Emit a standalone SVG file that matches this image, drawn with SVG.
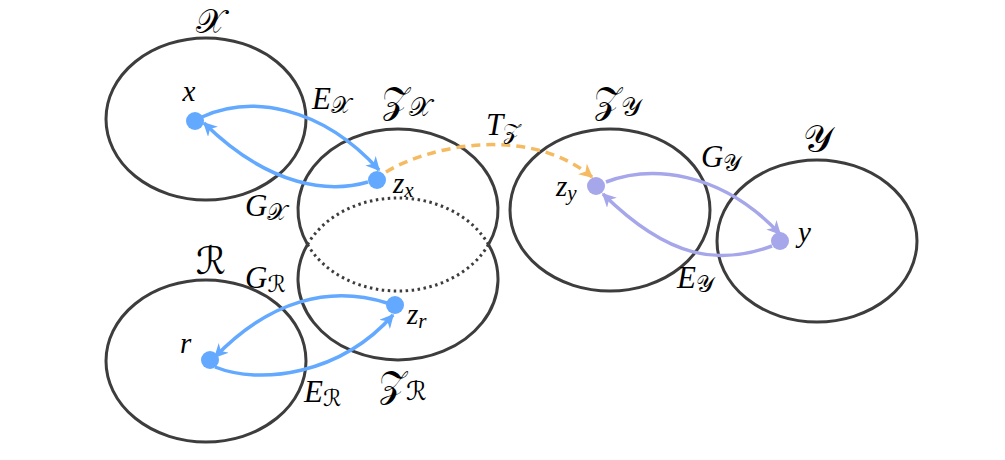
<svg xmlns="http://www.w3.org/2000/svg" width="1005" height="460" viewBox="0 0 1005 460">
<style>
.sp{fill:none;stroke:#3d3d3d;stroke-width:3}
.dot{fill:none;stroke:#3d3d3d;stroke-width:3;stroke-dasharray:2.5 3.5}
.t{font-family:"Liberation Serif","DejaVu Serif",serif;font-style:italic;fill:#000}
.s{font-family:"DejaVu Sans","Noto Sans","Liberation Serif",serif;font-style:normal;font-weight:normal;fill:#000}
.blue{fill:none;stroke:#63a9ff;stroke-width:3.5}
.pur{fill:none;stroke:#a6a6ea;stroke-width:3.5}
.org{fill:none;stroke:#f5bb62;stroke-width:3.5;stroke-dasharray:9 6}
</style>
<defs>
<marker id="ab" viewBox="0 0 10 10" refX="9" refY="5" markerWidth="4" markerHeight="4" orient="auto" markerUnits="strokeWidth"><path d="M0,0 L10,5 L0,10 L3,5 Z" fill="#63a9ff"/></marker>
<marker id="ap" viewBox="0 0 10 10" refX="9" refY="5" markerWidth="4" markerHeight="4" orient="auto" markerUnits="strokeWidth"><path d="M0,0 L10,5 L0,10 L3,5 Z" fill="#a6a6ea"/></marker>
<marker id="ao" viewBox="0 0 10 10" refX="9" refY="5" markerWidth="4" markerHeight="4" orient="auto" markerUnits="strokeWidth"><path d="M0,0 L10,5 L0,10 L3,5 Z" fill="#f5bb62"/></marker>
</defs>
<rect width="1005" height="460" fill="#fff"/>
<g id="space-X">
<ellipse class="sp" cx="206" cy="119" rx="100" ry="81"/>
<text class="s" x="210" y="33" font-size="34" text-anchor="middle">𝒳</text>
</g>
<g id="space-Zx">
<path class="sp" d="M307.5,244.5 A100,81 0 1 1 488.5,244.5"/>
<path class="dot" d="M307.5,244.5 A100,81 0 0 0 488.5,244.5"/>
<text x="382" y="113"><tspan class="s" font-size="36">𝒵</tspan><tspan class="s" font-size="26" dy="3">𝒳</tspan></text>
</g>
<g id="space-ZR">
<path class="sp" d="M307.5,244.5 A100,81 0 1 0 488.5,244.5"/>
<path class="dot" d="M307.5,244.5 A100,81 0 0 1 488.5,244.5"/>
<text x="379" y="397"><tspan class="s" font-size="36">𝒵</tspan><tspan class="s" font-size="26" dy="3">ℛ</tspan></text>
</g>
<g id="space-Zy">
<ellipse class="sp" cx="610" cy="210" rx="100" ry="81"/>
<text x="594" y="113"><tspan class="s" font-size="36">𝒵</tspan><tspan class="s" font-size="26" dy="3">𝒴</tspan></text>
</g>
<g id="space-Y">
<ellipse class="sp" cx="817" cy="241" rx="100" ry="81"/>
<text class="s" x="818" y="152" font-size="38" text-anchor="middle">𝒴</text>
</g>
<g id="space-R">
<ellipse class="sp" cx="206" cy="361" rx="100" ry="81"/>
<text class="s" x="211" y="274" font-size="38" text-anchor="middle">ℛ</text>
</g>
<g id="connectors">
<path class="blue" d="M202,117 C250,95 320,105 379,170" marker-end="url(#ab)"/>
<path class="blue" d="M368,182 C330,193 270,188 204,123" marker-end="url(#ab)"/>
<path class="org" d="M386,172 C430,145 530,125 592,177" marker-end="url(#ao)"/>
<path class="pur" d="M606,182 C650,165 720,170 780,234" marker-end="url(#ap)"/>
<path class="pur" d="M772,246 C720,265 670,260 603,194" marker-end="url(#ap)"/>
<path class="blue" d="M215,367 C260,385 340,375 393,315" marker-end="url(#ab)"/>
<path class="blue" d="M387,303 C330,285 270,300 215,357" marker-end="url(#ab)"/>
</g>
<g id="point-x"><circle cx="195" cy="121" r="9" fill="#63a9ff"/><text class="t" x="189" y="101" font-size="29" text-anchor="middle">x</text></g>
<g id="point-zx"><circle cx="377" cy="180" r="9" fill="#63a9ff"/><text class="t" x="393" y="193" font-size="29">z<tspan font-size="21" dy="4">x</tspan></text></g>
<g id="point-zy"><circle cx="596" cy="186" r="9" fill="#a6a6ea"/><text class="t" x="556" y="196" font-size="29">z<tspan font-size="21" dy="4">y</tspan></text></g>
<g id="point-y"><circle cx="780" cy="241" r="9" fill="#a6a6ea"/><text class="t" x="798" y="242" font-size="29">y</text></g>
<g id="point-r"><circle cx="210" cy="360" r="9" fill="#63a9ff"/><text class="t" x="180" y="353" font-size="29">r</text></g>
<g id="point-zr"><circle cx="395" cy="305" r="9" fill="#63a9ff"/><text class="t" x="407" y="324" font-size="29">z<tspan font-size="21" dy="4">r</tspan></text></g>
<g id="labels">
<text x="312" y="109"><tspan class="t" font-size="31">E</tspan><tspan class="s" font-size="23" dy="4">𝒳</tspan></text>
<text x="245" y="216"><tspan class="t" font-size="31">G</tspan><tspan class="s" font-size="23" dy="4">𝒳</tspan></text>
<text x="486" y="135"><tspan class="t" font-size="31">T</tspan><tspan class="s" font-size="23" dy="4">𝒵</tspan></text>
<text x="701" y="167"><tspan class="t" font-size="31">G</tspan><tspan class="s" font-size="23" dy="4">𝒴</tspan></text>
<text x="677" y="288"><tspan class="t" font-size="31">E</tspan><tspan class="s" font-size="23" dy="4">𝒴</tspan></text>
<text x="245" y="288"><tspan class="t" font-size="31">G</tspan><tspan class="s" font-size="23" dy="4">ℛ</tspan></text>
<text x="304" y="402"><tspan class="t" font-size="31">E</tspan><tspan class="s" font-size="23" dy="4">ℛ</tspan></text>
</g>
</svg>
